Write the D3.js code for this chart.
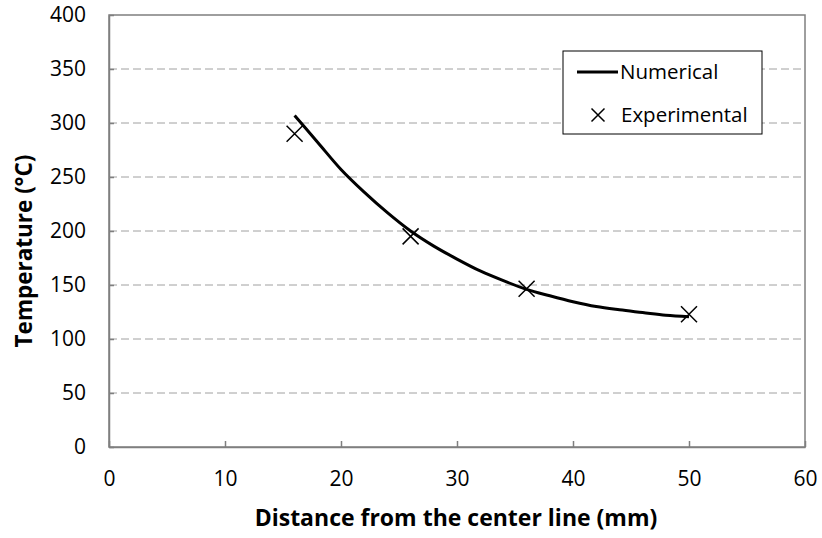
<!DOCTYPE html>
<html>
<head>
<meta charset="utf-8">
<script src="https://cdn.jsdelivr.net/npm/d3@7"></script>
<style>
  body { margin: 0; background: #fff; }
  text { font-family: "Open Sans", sans-serif; fill: #000; }
</style>
</head>
<body>
<svg id="chart"></svg>
<script>
const width = 822;
const height = 538;
const margin = {left: 109, right: 17, top: 15, bottom: 91};

// numerical curve (mm, °C)
const numX = [16, 18, 20, 22, 24, 26, 28, 30, 32, 34, 36, 38, 40, 42, 44, 46, 48, 50];
const numT = [307, 282, 257, 236, 217, 200, 186, 174, 163, 154, 146, 140, 134.5, 130, 127, 124.5, 122, 120.6];

// experimental points
const expX = [16, 26, 36, 50];
const expT = [290, 195, 146.5, 123];

const xTicks = [0, 10, 20, 30, 40, 50, 60];
const yTicks = [0, 50, 100, 150, 200, 250, 300, 350, 400];

const plotW = width - margin.left - margin.right;
const plotH = height - margin.top - margin.bottom;

const svg = d3.select('#chart')
  .attr('width', width)
  .attr('height', height);

const g = svg.append('g')
  .attr('transform', `translate(${margin.left}, ${margin.top})`);

const xScale = d3.scaleLinear().domain([0, 60]).range([0, plotW]);
const yScale = d3.scaleLinear().domain([0, 400]).range([plotH, 0]);

// dashed gridlines
g.selectAll('.grid')
  .data(yTicks.filter(d => d > 0 && d < 400))
  .enter()
  .append('line')
  .attr('x1', 0)
  .attr('x2', plotW)
  .attr('y1', d => yScale(d))
  .attr('y2', d => yScale(d))
  .attr('stroke', '#a0a0a0')
  .attr('stroke-width', 1)
  .attr('stroke-dasharray', '8,4');

// plot border
g.append('rect')
  .attr('x', 0).attr('y', 0)
  .attr('width', plotW).attr('height', plotH)
  .attr('fill', 'none')
  .attr('stroke', '#7f7f7f')
  .attr('stroke-width', 1.5);

// axes
const xAxis = d3.axisBottom(xScale).tickValues(xTicks).tickSizeInner(-6).tickSizeOuter(0).tickPadding(24);
const yAxis = d3.axisLeft(yScale).tickValues(yTicks).tickSizeInner(-5).tickSizeOuter(0).tickPadding(23);

const gx = g.append('g')
  .attr('transform', `translate(0, ${plotH})`)
  .call(xAxis);
const gy = g.append('g').call(yAxis);

[gx, gy].forEach(ax => {
  ax.select('.domain').attr('stroke', '#7f7f7f').attr('stroke-width', 1.5);
  ax.selectAll('.tick line').attr('stroke', '#7f7f7f').attr('stroke-width', 1.5);
  ax.selectAll('.tick text')
    .attr('fill', '#000')
    .style('font-size', '21px')
    .style('font-family', '"Open Sans", sans-serif');
});

// axis titles
svg.append('text')
  .text('Distance from the center line (mm)')
  .attr('x', 456)
  .attr('y', 526)
  .attr('text-anchor', 'middle')
  .style('font-size', '23px')
  .style('font-weight', 'bold');

const yLabelX = 32;
const yLabelY = 251;
svg.append('text')
  .text('Temperature (°C)')
  .attr('x', yLabelX)
  .attr('y', yLabelY)
  .attr('text-anchor', 'middle')
  .attr('transform', `rotate(-90, ${yLabelX}, ${yLabelY})`)
  .style('font-size', '22.5px')
  .style('font-weight', 'bold');

// numerical curve
const line = d3.line()
  .x((d, i) => xScale(numX[i]))
  .y(d => yScale(d))
  .curve(d3.curveMonotoneX);

g.append('path')
  .datum(numT)
  .attr('d', line)
  .attr('fill', 'none')
  .attr('stroke', '#000')
  .attr('stroke-width', 3);

// experimental markers
const crossPath = s => `M${-s},${-s}L${s},${s}M${-s},${s}L${s},${-s}`;
g.selectAll('.exp')
  .data(expT)
  .enter()
  .append('path')
  .attr('transform', (d, i) => `translate(${xScale(expX[i])}, ${yScale(d)})`)
  .attr('d', crossPath(8))
  .attr('stroke', '#000')
  .attr('stroke-width', 1.5)
  .attr('fill', 'none');

// legend
const legend = svg.append('g').attr('transform', 'translate(563, 51)');
legend.append('rect')
  .attr('width', 199).attr('height', 83)
  .attr('fill', '#fff')
  .attr('stroke', '#000')
  .attr('stroke-width', 1);
legend.append('line')
  .attr('x1', 14).attr('x2', 55)
  .attr('y1', 21).attr('y2', 21)
  .attr('stroke', '#000')
  .attr('stroke-width', 3);
legend.append('text')
  .text('Numerical')
  .attr('x', 57).attr('y', 28)
  .style('font-size', '20.5px');
legend.append('path')
  .attr('transform', 'translate(35, 64)')
  .attr('d', crossPath(6.5))
  .attr('stroke', '#000')
  .attr('stroke-width', 1.5);
legend.append('text')
  .text('Experimental')
  .attr('x', 58).attr('y', 71)
  .style('font-size', '20.5px');
</script>
</body>
</html>
